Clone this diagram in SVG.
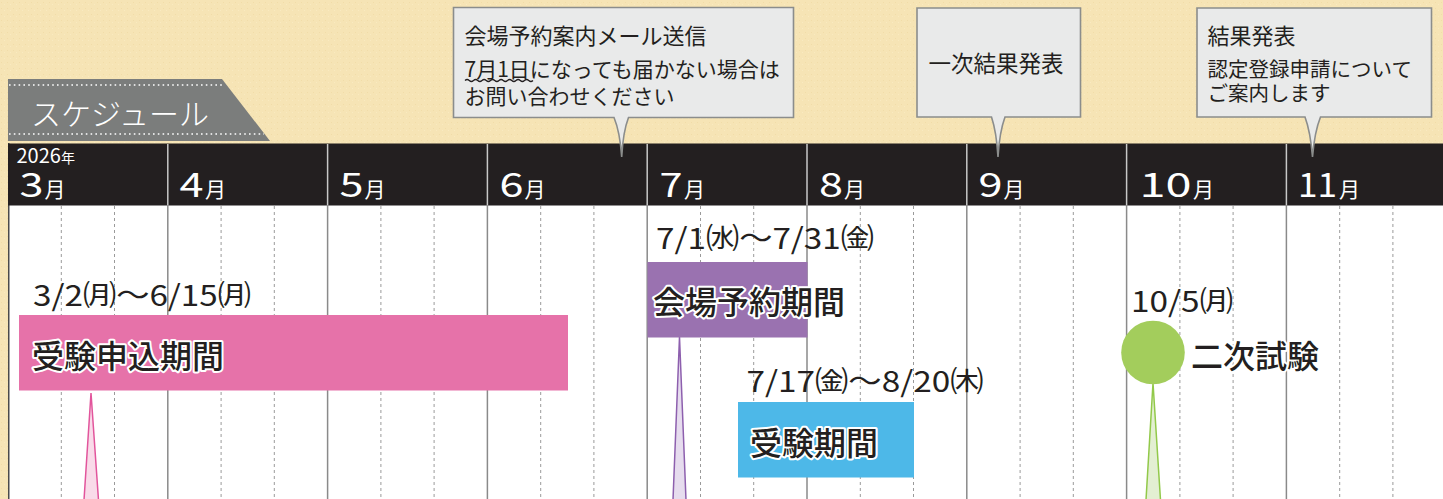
<svg xmlns="http://www.w3.org/2000/svg" width="1443" height="499" viewBox="0 0 1443 499">
<style>
.jp{font-family:"Noto Sans CJK JP","Noto Sans",sans-serif;}
.hd{fill:#ffffff;}
.mn{font-size:33px;}
.mu{font-size:21px;}
.date{font-size:29px;fill:#231f20;}
.bar{font-size:32px;fill:#231f20;stroke:#ffffff;stroke-width:4px;stroke-linejoin:round;paint-order:stroke;font-weight:500;}
.call{fill:#e9eaea;stroke:#8b8d8c;stroke-width:1.6;stroke-linejoin:miter;}
.ct{fill:#231f20;}
.grid{stroke:#8a8a8a;stroke-width:1.5;}
.dash{stroke:#9a9a9a;stroke-width:1;stroke-dasharray:3 3;}
.sep{stroke:#c8c8c8;stroke-width:1.5;}
</style>
<defs>
<pattern id="tex" width="6" height="6" patternUnits="userSpaceOnUse">
<rect width="6" height="6" fill="#f6e4b5"/>
<rect x="1" y="2" width="1" height="1" fill="#f1dca8"/>
<rect x="4" y="4" width="1" height="1" fill="#f9eac0"/>
</pattern>
</defs>
<rect width="1443" height="499" fill="url(#tex)"/>
<!-- white timeline area -->
<rect x="8" y="205" width="1435" height="294" fill="#ffffff"/>
<line x1="8.75" y1="143" x2="8.75" y2="499" stroke="#4a4a4a" stroke-width="1.5"/>
<!-- grid -->
<g id="grid">
<g class="dash">
<line x1="61.3" y1="206" x2="61.3" y2="499"/><line x1="114.5" y1="206" x2="114.5" y2="499"/>
<line x1="221.1" y1="206" x2="221.1" y2="499"/><line x1="274.3" y1="206" x2="274.3" y2="499"/>
<line x1="380.9" y1="206" x2="380.9" y2="499"/><line x1="434.1" y1="206" x2="434.1" y2="499"/>
<line x1="540.7" y1="206" x2="540.7" y2="499"/><line x1="593.9" y1="206" x2="593.9" y2="499"/>
<line x1="700.5" y1="206" x2="700.5" y2="499"/><line x1="753.7" y1="206" x2="753.7" y2="499"/>
<line x1="860.3" y1="206" x2="860.3" y2="499"/><line x1="913.5" y1="206" x2="913.5" y2="499"/>
<line x1="1020.1" y1="206" x2="1020.1" y2="499"/><line x1="1073.3" y1="206" x2="1073.3" y2="499"/>
<line x1="1179.9" y1="206" x2="1179.9" y2="499"/><line x1="1233.1" y1="206" x2="1233.1" y2="499"/>
<line x1="1339.7" y1="206" x2="1339.7" y2="499"/><line x1="1392.9" y1="206" x2="1392.9" y2="499"/>
</g>
<g class="grid">
<line x1="167.8" y1="206" x2="167.8" y2="499"/><line x1="327.6" y1="206" x2="327.6" y2="499"/>
<line x1="487.4" y1="206" x2="487.4" y2="499"/><line x1="647.2" y1="206" x2="647.2" y2="499"/>
<line x1="807" y1="206" x2="807" y2="499"/><line x1="966.8" y1="206" x2="966.8" y2="499"/>
<line x1="1126.6" y1="206" x2="1126.6" y2="499"/><line x1="1286.4" y1="206" x2="1286.4" y2="499"/>
</g>
</g>
<!-- header bar -->
<g id="header">
<rect x="8" y="143.5" width="1435" height="62" fill="#231f20"/>
<g class="sep">
<line x1="167.8" y1="144" x2="167.8" y2="205"/><line x1="327.6" y1="144" x2="327.6" y2="205"/>
<line x1="487.4" y1="144" x2="487.4" y2="205"/><line x1="647.2" y1="144" x2="647.2" y2="205"/>
<line x1="807" y1="144" x2="807" y2="205"/><line x1="966.8" y1="144" x2="966.8" y2="205"/>
<line x1="1126.6" y1="144" x2="1126.6" y2="205"/><line x1="1286.4" y1="144" x2="1286.4" y2="205"/>
</g>
<text class="jp hd" x="16.5" y="162.5" font-size="20">2026<tspan font-size="14">年</tspan></text>
<g class="jp hd">
<text class="mn" x="19.5" y="196.5" textLength="24" lengthAdjust="spacingAndGlyphs">3</text><text class="mu" x="44.5" y="196.5">月</text>
<text class="mn" x="179.5" y="196.5" textLength="24" lengthAdjust="spacingAndGlyphs">4</text><text class="mu" x="205" y="196.5">月</text>
<text class="mn" x="339.5" y="196.5" textLength="24" lengthAdjust="spacingAndGlyphs">5</text><text class="mu" x="364.5" y="196.5">月</text>
<text class="mn" x="499.5" y="196.5" textLength="24" lengthAdjust="spacingAndGlyphs">6</text><text class="mu" x="524.5" y="196.5">月</text>
<text class="mn" x="659.5" y="196.5" textLength="23" lengthAdjust="spacingAndGlyphs">7</text><text class="mu" x="684" y="196.5">月</text>
<text class="mn" x="819" y="196.5" textLength="24" lengthAdjust="spacingAndGlyphs">8</text><text class="mu" x="844" y="196.5">月</text>
<text class="mn" x="978.5" y="196.5" textLength="24" lengthAdjust="spacingAndGlyphs">9</text><text class="mu" x="1003.5" y="196.5">月</text>
<text class="mn" x="1139.5" y="196.5" textLength="52" lengthAdjust="spacingAndGlyphs">10</text><text class="mu" x="1193" y="196.5">月</text>
<text class="mn" x="1298" y="196.5" textLength="39" lengthAdjust="spacingAndGlyphs">11</text><text class="mu" x="1339" y="196.5">月</text>
</g>
</g>
<!-- title tab -->
<g id="title">
<polygon points="8,79 222,79 270,141 8,141" fill="#7b7d7c"/>
<line x1="9" y1="85" x2="224" y2="85" stroke="#ffffff" stroke-width="1.6" stroke-dasharray="1.6 3.2"/>
<line x1="9" y1="134" x2="264" y2="134" stroke="#ffffff" stroke-width="1.6" stroke-dasharray="1.6 3.2"/>
<text class="jp" x="31" y="124.5" font-size="30" fill="#ffffff" font-weight="300">スケジュール</text>
</g>
<!-- callouts -->
<g id="callout-mail">
<path class="call" d="M453.5,7.5 H793.5 V117.5 H628.5 Q623,132 621.7,157 Q620,132 614,117.5 H453.5 Z"/>
<text class="jp ct" x="464.5" y="43.5" font-size="22">会場予約案内メール送信</text>
<text class="jp ct" x="464.5" y="77" font-size="21">7月1日になっても届かない場合は</text>
<path d="M465,80.5 q2.1,-2 4.25,0 t4.25,0 t4.25,0 t4.25,0 t4.25,0 t4.25,0 t4.25,0 t4.25,0 t4.25,0 t4.25,0 t4.25,0 t4.25,0 t4.25,0 t4.25,0 t4.25,0 t4.25,0" fill="none" stroke="#231f20" stroke-width="1.2"/>
<text class="jp ct" x="464.5" y="103.5" font-size="21">お問い合わせください</text>
</g>
<g id="callout-first-result">
<path class="call" d="M917,8 H1080.5 V117 H1005 Q999.5,132 998,157 Q996.5,132 991.5,117 H917 Z"/>
<text class="jp ct" x="928.5" y="72" font-size="22.5">一次結果発表</text>
</g>
<g id="callout-result">
<path class="call" d="M1197,8 H1431.5 V117 H1320.5 Q1314.5,132 1312.5,157 Q1310.5,132 1305,117 H1197 Z"/>
<text class="jp ct" x="1207.5" y="43.5" font-size="22">結果発表</text>
<text class="jp ct" x="1207.5" y="77" font-size="20.5">認定登録申請について</text>
<text class="jp ct" x="1207.5" y="100.5" font-size="20.5">ご案内します</text>
</g>
<!-- connectors (pointer spikes) -->
<g id="connectors" stroke-width="1.5" stroke-linejoin="miter">
<polygon points="91,393 98.5,500 84,500" fill="#f9dbe9" stroke="#e2559c"/>
<polygon points="679.5,337 686,500 673,500" fill="#e6dcee" stroke="#8d5fae"/>
<polygon points="1153,383 1160.5,500 1146,500" fill="#e3efd2" stroke="#92c94a"/>
</g>
<!-- period bars -->
<g id="node-application">
<rect x="19" y="315" width="549" height="75.5" fill="#e672a9"/>
<text class="jp date" x="33" y="306" textLength="218" lengthAdjust="spacingAndGlyphs">3/2㈪～6/15㈪</text>
<text class="jp bar" x="32" y="368">受験申込期間</text>
</g>
<g id="node-venue">
<rect x="647.5" y="262" width="160" height="75.5" fill="#9a72b0"/>
<text class="jp date" x="656" y="249" textLength="218" lengthAdjust="spacingAndGlyphs">7/1㈬～7/31㈮</text>
<text class="jp bar" x="653" y="313.5">会場予約期間</text>
</g>
<g id="node-exam">
<rect x="738" y="402" width="176" height="75.5" fill="#4db8e8"/>
<text class="jp date" x="746.5" y="392" textLength="237" lengthAdjust="spacingAndGlyphs">7/17㈮～8/20㈭</text>
<text class="jp bar" x="750" y="455">受験期間</text>
</g>
<g id="node-second-exam">
<circle cx="1153" cy="352.5" r="31.8" fill="#a3cd5c"/>
<text class="jp date" x="1131" y="311.5" textLength="102" lengthAdjust="spacingAndGlyphs">10/5㈪</text>
<text class="jp bar" x="1191" y="368">二次試験</text>
</g>
</svg>
